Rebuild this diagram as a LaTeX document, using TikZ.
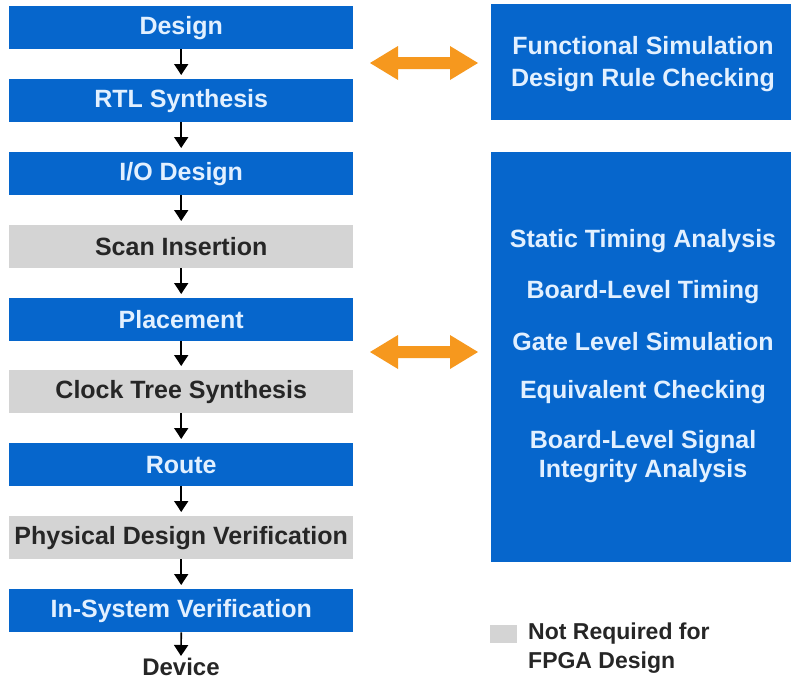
\documentclass[tikz,border=0pt]{standalone}
\usepackage{fontspec}
\setmainfont{Liberation Sans}
\usetikzlibrary{arrows.meta}
\definecolor{flowblue}{RGB}{6,102,204}
\definecolor{flowgray}{RGB}{212,212,212}
\definecolor{flowtext}{RGB}{226,240,255}
\definecolor{floworange}{RGB}{246,152,30}
\begin{document}
\begin{tikzpicture}[x=1pt,y=-1pt,
  stepbox/.style={minimum width=344pt,minimum height=43pt,inner sep=0pt,anchor=north west,font=\fontsize{25}{30}\selectfont\bfseries},
  bluestep/.style={stepbox,fill=flowblue,text=flowtext},
  graystep/.style={stepbox,fill=flowgray,text=black!85},
  flowarrow/.style={-{Triangle[width=14pt,length=11pt]},line width=1.7pt,black,shorten >=4pt},
  sidebox/.style={fill=flowblue,text=flowtext,inner sep=0pt,anchor=north west,font=\fontsize{25}{30}\selectfont\bfseries,align=center},
  sidetext/.style={font=\fontsize{25}{29}\selectfont\bfseries,text=flowtext,align=center},
  bigarrow/.style={draw=none,fill=floworange}
]
\useasboundingbox (0,0) rectangle (791,683);
\fill[white] (0,0) rectangle (791,683);

\node[bluestep] (s1) at (9,6) {Design};
\node[bluestep] (s2) at (9,79) {RTL Synthesis};
\node[bluestep] (s3) at (9,152) {I/O Design};
\node[graystep] (s4) at (9,225) {Scan Insertion};
\node[bluestep] (s5) at (9,298) {Placement};
\node[graystep] (s6) at (9,370) {Clock Tree Synthesis};
\node[bluestep] (s7) at (9,443) {Route};
\node[graystep] (s8) at (9,516) {Physical Design Verification};
\node[bluestep] (s9) at (9,589) {In-System Verification};
\node[font=\fontsize{24}{28}\selectfont\bfseries,text=black!85,inner sep=1pt] (dev) at (181,667) {Device};

\foreach \a/\b in {s1/s2,s2/s3,s3/s4,s4/s5,s5/s6,s6/s7,s7/s8,s8/s9}
  \draw[flowarrow] (\a.south) -- (\b.north);
\draw[flowarrow,shorten >=1pt] (s9.south) -- (dev.north);

% right boxes
\node[sidebox,minimum width=300pt,minimum height=116pt] (r1) at (491,4) {};
\node[sidetext] (r1a) at (643,46) {Functional Simulation};
\node[sidetext] (r1b) at (643,80) {Design Rule Checking};

\node[sidebox,minimum width=300pt,minimum height=410pt] (r2) at (491,152) {};
\node[sidetext] (t1) at (643,241) {Static Timing Analysis};
\node[sidetext] (t2) at (643,292) {Board-Level Timing};
\node[sidetext] (t3) at (643,342) {Gate Level Simulation};
\node[sidetext] (t4) at (643,392) {Equivalent Checking};
\node[sidetext] (t5) at (643,457) {Board-Level Signal\\Integrity Analysis};

% orange double arrows
\foreach \cy in {63,352}{
  \fill[bigarrow] (370,\cy) -- (398,\cy-17) -- (398,\cy-6) -- (450,\cy-6) -- (450,\cy-17)
    -- (478,\cy) -- (450,\cy+17) -- (450,\cy+6) -- (398,\cy+6) -- (398,\cy+17) -- cycle;
}

% legend
\node[fill=flowgray,minimum width=27pt,minimum height=18pt,inner sep=0pt,anchor=north west] (leg) at (490,625) {};
\node[anchor=north west,font=\fontsize{23}{29}\selectfont\bfseries,text=black!85,align=left,inner sep=0pt] (legt) at (528,623) {Not Required for\\FPGA Design};
\end{tikzpicture}
\end{document}
